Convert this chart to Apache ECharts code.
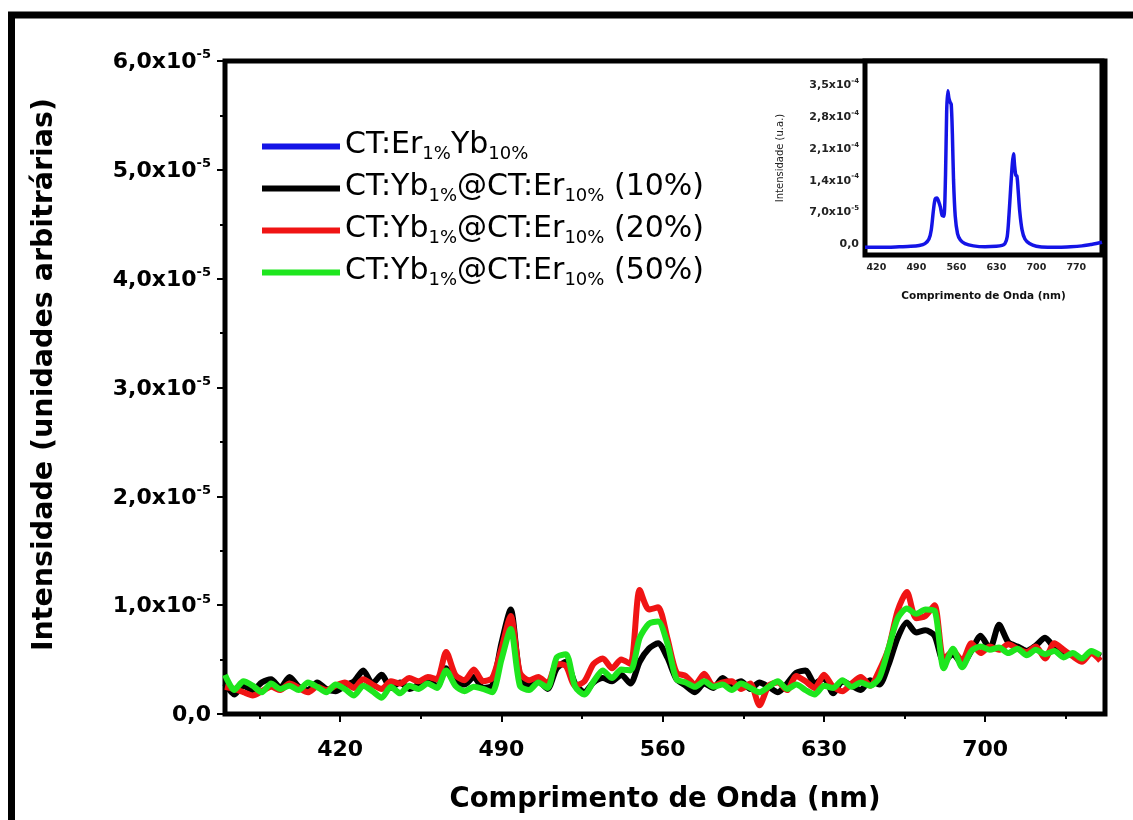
<!DOCTYPE html>
<html>
<head>
<meta charset="utf-8">
<script src="https://cdn.jsdelivr.net/npm/echarts@6/dist/echarts.min.js"></script>
<style>
  html, body { margin: 0; padding: 0; background: #fff; }
  #chart { width: 1133px; height: 820px; }
</style>
</head>
<body>
<div id="chart"></div>
<script>
// Wavelength grid (nm) of the up-conversion spectra in the main panel
const wavelength = [
  370, 374, 378, 382, 386, 390, 394, 398, 402, 406, 410, 414, 418, 422, 426, 430,
  434, 438, 442, 446, 450, 454, 458, 462, 466, 470, 474, 478, 482, 486, 490, 494,
  498, 502, 506, 510, 514, 518, 522, 526, 530, 534, 538, 542, 546, 550, 554, 558,
  562, 566, 570, 574, 578, 582, 586, 590, 594, 598, 602, 606, 610, 614, 618, 622,
  626, 630, 634, 638, 642, 646, 650, 654, 658, 662, 666, 670, 674, 678, 682, 686,
  690, 694, 698, 702, 706, 710, 714, 718, 722, 726, 730, 734, 738, 742, 746, 750
];

// Intensities, in units of 1e-6 a.u.
const shell10 = [
  2.8, 1.8, 2.6, 2.2, 2.9, 3.2, 2.4, 3.4, 2.5, 2.2, 2.9, 2.3, 2.1, 2.6, 3.0, 4.0,
  2.8, 3.6, 2.4, 2.9, 2.3, 2.7, 3.1, 2.5, 4.2, 3.0, 2.7, 3.4, 2.4, 2.6, 6.5, 9.6,
  3.5, 2.6, 3.0, 2.3, 4.2, 4.8, 2.8, 2.0, 2.9, 3.3, 3.0, 3.6, 2.8, 4.8, 6.0, 6.5,
  5.2, 3.2, 2.6, 2.0, 2.8, 2.4, 3.3, 2.7, 3.0, 2.3, 2.9, 2.5, 2.0, 2.8, 3.8, 4.0,
  2.8, 3.3, 1.9, 3.0, 2.6, 2.2, 3.1, 2.7, 4.5, 7.0, 8.4, 7.5, 7.7, 7.2, 4.8, 5.5,
  4.6, 5.8, 7.2, 6.0, 8.2, 6.6, 6.2, 5.8, 6.3, 7.0, 6.1, 5.6, 5.4, 5.0, 5.7, 5.3
];
const shell20 = [
  2.5, 2.3, 2.0, 1.7, 2.1, 2.5, 2.2, 2.8, 2.4, 2.0, 2.5, 2.2, 2.6, 2.9, 2.4, 3.2,
  2.7, 2.3, 3.0, 2.8, 3.3, 3.0, 3.4, 3.2, 5.7, 3.6, 3.1, 4.1, 3.0, 3.3, 6.0, 9.0,
  3.8, 3.1, 3.4, 2.8, 4.6, 4.4, 2.6, 3.0, 4.6, 5.1, 4.2, 5.0, 4.6, 11.4, 9.6, 9.8,
  7.0, 3.8, 3.5, 2.7, 3.7, 2.6, 2.9, 3.0, 2.3, 2.8, 0.8, 2.6, 2.9, 2.2, 3.5, 3.0,
  2.4, 3.6, 2.5, 2.1, 2.8, 3.4, 2.6, 4.0, 6.0, 9.5, 11.2, 8.8, 9.0, 10.0, 5.0, 5.8,
  4.9, 6.5, 5.6, 6.2, 5.9, 6.4, 6.0, 5.7, 6.2, 5.1, 6.5, 5.9, 5.3, 4.8, 5.6, 4.9
];
const shell50 = [
  3.6, 2.2, 3.0, 2.6, 2.0, 2.8, 2.3, 2.6, 2.2, 2.9, 2.5, 2.0, 2.7, 2.3, 1.7, 2.6,
  2.1, 1.5, 2.5, 1.9, 2.6, 2.3, 2.8, 2.4, 4.0, 2.6, 2.1, 2.5, 2.3, 2.0, 5.0, 7.8,
  2.6, 2.2, 2.9, 2.4, 5.2, 5.5, 2.5, 1.8, 3.0, 4.0, 3.3, 4.1, 4.0, 7.0, 8.3, 8.5,
  6.5, 3.2, 2.9, 2.5, 3.0, 2.5, 2.7, 2.2, 2.8, 2.4, 2.0, 2.5, 3.0, 2.3, 2.7, 2.2,
  1.8, 2.6, 2.4, 3.1, 2.5, 2.9, 2.6, 3.3, 6.0, 8.8, 9.7, 9.2, 9.6, 9.5, 4.2, 6.0,
  4.3, 5.8, 6.2, 5.9, 6.1, 5.6, 6.0, 5.4, 5.9, 5.5, 5.8, 5.2, 5.6, 5.1, 5.8, 5.4
];

// Inset: co-doped reference sample (intensity in units of 1e-6 a.u.)
const insetWavelength = [
  400, 420, 440, 460, 480, 495, 505, 512, 516, 520, 523, 526, 529, 532, 535, 538,
  541, 543, 545, 547, 549, 551, 553, 555, 558, 562, 567, 575, 590, 610, 630, 640,
  645, 649, 652, 655, 658, 660, 662, 664, 666, 668, 671, 675, 680, 688, 700, 720,
  740, 760, 780, 795, 805, 815
];
const coDoped = [
  -8, -8, -8, -7, -6, -4, 0, 10, 30, 75, 98, 100, 92, 80, 62, 60,
  150, 290, 335, 318, 310, 305, 240, 140, 60, 22, 8, 0, -5, -7, -6, -4,
  0, 15, 60, 120, 175, 197, 170, 150, 148, 120, 70, 30, 10, 0, -6, -8,
  -8, -7, -5, -2, 0, 3
];

// Axis tick positions
const xMajorTicks = [420, 490, 560, 630, 700];
const xMinorTicks = [385, 455, 525, 595, 665, 735];
const insetXTicks = [420, 490, 560, 630, 700, 770];
const insetYTicks = [0, 70, 140, 210, 280, 350];
const insetYMantissa = ['0,0', '7,0x10', '1,4x10', '2,1x10', '2,8x10', '3,5x10'];
const insetYExponent = ['', '-5', '-4', '-4', '-4', '-4'];

// Series names and their legend text with subscripts
const seriesNames = [
  'CT:Er1%Yb10%',
  'CT:Yb1%@CT:Er10% (10%)',
  'CT:Yb1%@CT:Er10% (20%)',
  'CT:Yb1%@CT:Er10% (50%)'
];
const legendText = [
  '{m|CT:Er}{s|1%}{m|Yb}{s|10%}',
  '{m|CT:Yb}{s|1%}{m|@CT:Er}{s|10%}{m| (10%)}',
  '{m|CT:Yb}{s|1%}{m|@CT:Er}{s|10%}{m| (20%)}',
  '{m|CT:Yb}{s|1%}{m|@CT:Er}{s|10%}{m| (50%)}'
];
const seriesColors = ['#1414e6', '#000000', '#f01414', '#1ee61e'];

const FONT = 'DejaVu Sans';

function pairs(xs, ys) {
  return xs.map((x, i) => [x, ys[i]]);
}

const chart = echarts.init(document.getElementById('chart'), null, { renderer: 'canvas' });

const mainYLabel = (v) => {
  if (v === 0) return '{b|0,0}';
  const m = (v / 10).toFixed(1).replace('.', ',');
  return '{b|' + m + 'x10}{s|-5}';
};
const insetYLabel = (v) => {
  const i = insetYTicks.indexOf(v);
  if (i < 0) return '';
  return insetYExponent[i] ? '{b|' + insetYMantissa[i] + '}{s|' + insetYExponent[i] + '}' : '{b|' + insetYMantissa[i] + '}';
};

const option = {
  backgroundColor: '#ffffff',
  animation: false,
  grid: [
    { left: 225, right: 28, top: 61, bottom: 106, show: true, borderColor: '#000', borderWidth: 5, backgroundColor: 'transparent' },
    { left: 865, right: 31, top: 61, height: 194, show: true, borderColor: '#000', borderWidth: 5, backgroundColor: '#fff', z: 3 }
  ],
  legend: {
    orient: 'vertical',
    left: 257,
    top: 121,
    icon: 'rect',
    itemWidth: 78,
    itemHeight: 6,
    itemGap: 5,
    data: seriesNames,
    formatter: (name) => legendText[seriesNames.indexOf(name)],
    textStyle: {
      fontFamily: FONT,
      color: '#000',
      rich: {
        m: { fontFamily: FONT, fontSize: 30, lineHeight: 33, verticalAlign: 'top', color: '#000' },
        s: { fontFamily: FONT, fontSize: 18, lineHeight: 18, verticalAlign: 'bottom', padding: [19, 0, 0, 0], color: '#000' }
      }
    }
  },
  xAxis: [
    {
      type: 'value', gridIndex: 0, min: 370, max: 752,
      axisLine: { show: false },
      splitLine: { show: false },
      axisTick: { show: true, customValues: xMajorTicks, length: 8, lineStyle: { color: '#000', width: 2 } },
      axisLabel: { customValues: xMajorTicks, margin: 25, fontFamily: FONT, fontWeight: 'bold', fontSize: 22, color: '#000' },
      name: 'Comprimento de Onda (nm)', nameLocation: 'middle', nameGap: 72,
      nameTextStyle: { fontFamily: FONT, fontWeight: 'bold', fontSize: 27.5, color: '#000' }
    },
    {
      type: 'value', gridIndex: 0, min: 370, max: 752, position: 'bottom', offset: 0,
      axisLine: { show: false },
      splitLine: { show: false },
      axisLabel: { show: false },
      axisTick: { show: true, customValues: xMinorTicks, length: 5, lineStyle: { color: '#000', width: 2 } }
    },
    {
      type: 'value', gridIndex: 1, min: 400, max: 815,
      axisLine: { show: false },
      splitLine: { show: false },
      axisTick: { show: false },
      axisLabel: { customValues: insetXTicks, margin: 8, fontFamily: FONT, fontWeight: 'bold', fontSize: 9.5, color: '#222' },
      name: 'Comprimento de Onda (nm)', nameLocation: 'middle', nameGap: 36,
      nameTextStyle: { fontFamily: FONT, fontWeight: 'bold', fontSize: 10.5, color: '#111' }
    }
  ],
  yAxis: [
    {
      type: 'value', gridIndex: 0, min: 0, max: 60, interval: 10,
      axisLine: { show: false },
      splitLine: { show: false },
      axisTick: { show: true, length: 8, lineStyle: { color: '#000', width: 2 } },
      minorTick: { show: true, splitNumber: 2, length: 5, lineStyle: { color: '#000', width: 2 } },
      axisLabel: {
        margin: 14, formatter: mainYLabel,
        rich: {
          b: { fontFamily: FONT, fontWeight: 'bold', fontSize: 22, lineHeight: 25, verticalAlign: 'bottom', color: '#000' },
          s: { fontFamily: FONT, fontWeight: 'bold', fontSize: 13, lineHeight: 13, verticalAlign: 'top', color: '#000' }
        }
      },
      name: 'Intensidade (unidades arbitrárias)', nameLocation: 'middle', nameGap: 166,
      nameTextStyle: { fontFamily: FONT, fontWeight: 'bold', fontSize: 28.5, color: '#000', padding: [0, 0, 0, 26] }
    },
    {
      type: 'value', gridIndex: 1, min: -25, max: 400,
      axisLine: { show: false },
      splitLine: { show: false },
      axisTick: { show: false },
      axisLabel: {
        customValues: insetYTicks, margin: 6, formatter: insetYLabel,
        rich: {
          b: { fontFamily: FONT, fontWeight: 'bold', fontSize: 11, lineHeight: 13, verticalAlign: 'bottom', color: '#222' },
          s: { fontFamily: FONT, fontWeight: 'bold', fontSize: 7, lineHeight: 7, verticalAlign: 'top', color: '#222' }
        }
      },
      name: 'Intensidade (u.a.)', nameLocation: 'middle', nameGap: 80,
      nameTextStyle: { fontFamily: FONT, fontSize: 10, color: '#222' }
    }
  ],
  series: [
    {
      name: seriesNames[0], type: 'line', xAxisIndex: 2, yAxisIndex: 1,
      data: pairs(insetWavelength, coDoped), symbol: 'none', smooth: 0.3,
      lineStyle: { color: seriesColors[0], width: 3.5 }, itemStyle: { color: seriesColors[0] }, z: 5
    },
    {
      name: seriesNames[1], type: 'line', xAxisIndex: 0, yAxisIndex: 0,
      data: pairs(wavelength, shell10), symbol: 'none', smooth: 0.25,
      lineStyle: { color: seriesColors[1], width: 6 }, itemStyle: { color: seriesColors[1] }
    },
    {
      name: seriesNames[2], type: 'line', xAxisIndex: 0, yAxisIndex: 0,
      data: pairs(wavelength, shell20), symbol: 'none', smooth: 0.25,
      lineStyle: { color: seriesColors[2], width: 6 }, itemStyle: { color: seriesColors[2] }
    },
    {
      name: seriesNames[3], type: 'line', xAxisIndex: 0, yAxisIndex: 0,
      data: pairs(wavelength, shell50), symbol: 'none', smooth: 0.25,
      lineStyle: { color: seriesColors[3], width: 6 }, itemStyle: { color: seriesColors[3] }
    }
  ],
  graphic: [
    {
      type: 'rect', z: 100, silent: true,
      shape: { x: 11.5, y: 15, width: 1400, height: 1000 },
      style: { fill: 'none', stroke: '#000', lineWidth: 7 }
    }
  ]
};

chart.setOption(option);
</script>
</body>
</html>
